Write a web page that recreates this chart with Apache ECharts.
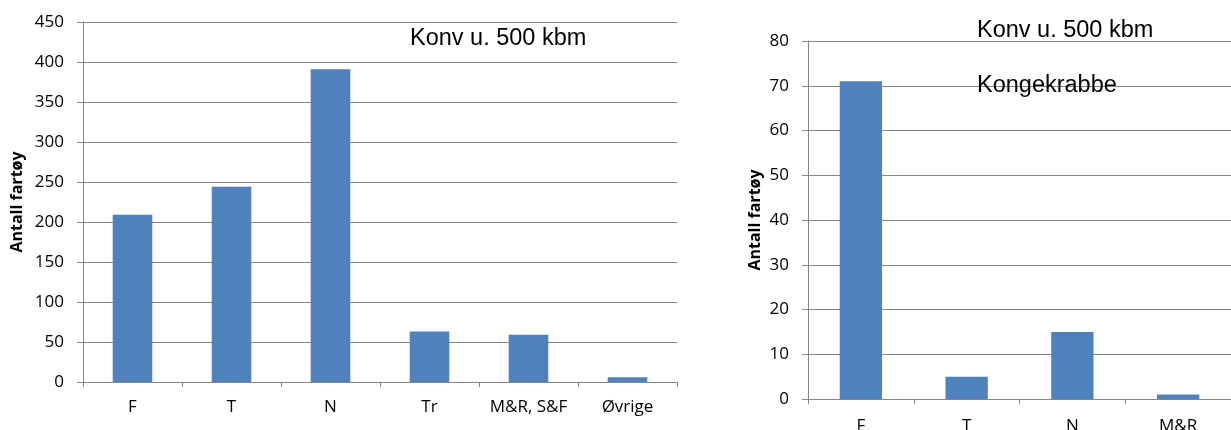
<!DOCTYPE html>
<html>
<head>
<meta charset="utf-8">
<script src="https://cdn.jsdelivr.net/npm/echarts@6/dist/echarts.min.js"></script>
<style>
  html, body { margin: 0; padding: 0; background: #fff; }
  #chart { width: 1231px; height: 430px; }
</style>
</head>
<body>
<div id="chart"></div>
<script>
// left panel: all conventional vessels under 500 kbm
const leftCategories = ['F', 'T', 'N', 'Tr', 'M&R, S&F', 'Øvrige'];
const leftValues = [209, 244, 391, 63, 59, 6];

// right panel: king crab
const rightCategories = ['F', 'T', 'N', 'M&R'];
const rightValues = [71, 5, 15, 1];

const axisName = 'Antall fartøy';
const noteLeft = 'Konv u. 500 kbm';
const noteRight = ['Konv u. 500 kbm', 'Kongekrabbe'];

const gridColor = '#868686';
const barColor = '#4f81bd';
const tickFont = 'Open Sans';

const makeXAxis = (gridIndex, data, margin) => ({
  type: 'category',
  gridIndex,
  data,
  axisLine: { show: true, lineStyle: { color: gridColor, width: 1 } },
  axisTick: { show: true, length: 5, lineStyle: { color: gridColor } },
  axisLabel: {
    color: '#000',
    fontFamily: tickFont,
    fontSize: 17,
    margin,
    interval: 0
  },
  splitLine: { show: false }
});

const makeYAxis = (gridIndex, max, interval, nameGap) => ({
  type: 'value',
  gridIndex,
  min: 0,
  max,
  interval,
  name: axisName,
  nameLocation: 'middle',
  nameGap,
  nameRotate: 90,
  nameTextStyle: {
    color: '#000',
    fontFamily: tickFont,
    fontWeight: 'bold',
    fontSize: 16
  },
  axisLine: { show: true, lineStyle: { color: gridColor, width: 1 } },
  axisTick: { show: true, length: 6, lineStyle: { color: gridColor } },
  axisLabel: {
    color: '#000',
    fontFamily: tickFont,
    fontSize: 17,
    margin: 19
  },
  splitLine: { show: true, lineStyle: { color: gridColor, width: 1 } }
});

const noteStyle = (text, x, y) => ({
  type: 'text',
  left: x,
  top: y,
  style: {
    text,
    fill: '#000',
    font: '23.5px "Liberation Sans", Arial, sans-serif',
    verticalAlign: 'top'
  },
  z: 100
});

const chart = echarts.init(document.getElementById('chart'));

chart.setOption({
  animation: false,
  grid: [
    { left: 83, top: 22, right: 554, bottom: 48, containLabel: false, outerBoundsMode: 'none' },
    { left: 808, top: 41, right: 0, bottom: 31, containLabel: false, outerBoundsMode: 'none' }
  ],
  xAxis: [makeXAxis(0, leftCategories, 17), makeXAxis(1, rightCategories, 19)],
  yAxis: [makeYAxis(0, 450, 50, 58), makeYAxis(1, 80, 10, 45)],
  series: [
    {
      type: 'bar',
      xAxisIndex: 0,
      yAxisIndex: 0,
      data: leftValues,
      barWidth: '40%',
      itemStyle: { color: barColor }
    },
    {
      type: 'bar',
      xAxisIndex: 1,
      yAxisIndex: 1,
      data: rightValues,
      barWidth: '40%',
      itemStyle: { color: barColor }
    }
  ],
  graphic: [
    noteStyle(noteLeft, 410, 27),
    noteStyle(noteRight[0], 977, 19),
    noteStyle(noteRight[1], 977, 74)
  ]
});
</script>
</body>
</html>
